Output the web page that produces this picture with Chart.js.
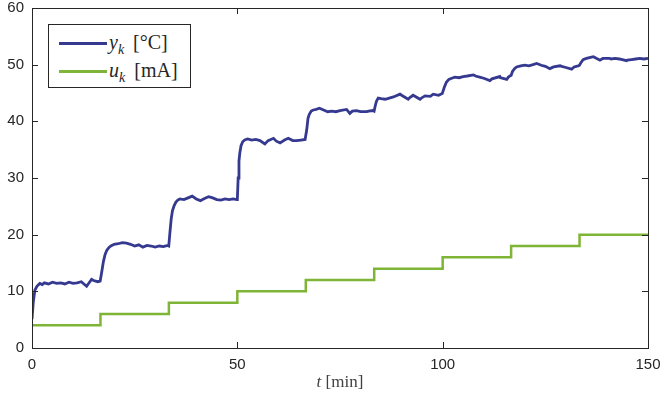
<!DOCTYPE html>
<html>
<head>
<meta charset="utf-8">
<script src="https://cdn.jsdelivr.net/npm/chart.js@4.4.1/dist/chart.umd.min.js"></script>
<style>
  body { margin: 0; background: #fff; }
  #wrap { position: relative; width: 662px; height: 401px; }
  #legend {
    position: absolute; left: 48px; top: 24px; width: 141px; height: 62px;
    border: 1px solid #262626; background: #fff;
    font-family: 'Liberation Serif', 'DejaVu Serif', serif; color: #262626;
  }
  #legend .ln { position: absolute; left: 10px; width: 48px; height: 2.5px; }
  #legend .tx { position: absolute; left: 60px; font-size: 20px; line-height: 20px; white-space: nowrap; }
  #legend sub { font-size: 14px; font-style: italic; vertical-align: -5px; line-height: 0; margin-right: 4px; }
  #xtitle {
    position: absolute; left: 32px; width: 616px; top: 373px; text-align: center;
    font-family: 'Liberation Serif', 'DejaVu Serif', serif; font-size: 17px; line-height: 18px; color: #404040;
  }
</style>
</head>
<body>
<div id="wrap">
  <canvas id="chart" width="662" height="401"></canvas>
  <div id="legend">
    <div class="ln" style="top:17px;background:#35398f"></div>
    <div class="tx" style="top:7px"><i>y</i><sub>k</sub> [°C]</div>
    <div class="ln" style="top:45px;background:#7fb536"></div>
    <div class="tx" style="top:35px"><i>u</i><sub>k</sub> [mA]</div>
  </div>
  <div id="xtitle"><i>t</i> [min]</div>
</div>
<script>
// ── Data ─────────────────────────────────────────────────────
const tempTimes = [
  0, 0.3, 0.7, 1.2, 1.9, 2.5, 3, 4, 5, 6, 7, 8, 9, 10, 11, 12, 13.3, 14, 14.5, 15, 16, 16.6,
  16.67, 17.0, 17.4, 17.8, 18.2, 18.7, 19.2, 20, 21, 22, 23, 24, 25, 26, 27, 28, 29, 30, 31, 32, 33, 33.3,
  33.33, 33.6, 33.9, 34.2, 34.6, 35.0, 35.5, 36, 37, 38, 39, 40, 41, 42, 43, 44, 45, 46, 47, 48, 49, 49.9,
  50, 50.2, 50.4, 50.6, 50.9, 51.3, 51.8, 52.5, 53.5, 54.5, 55.5, 56.7, 57.5, 58.8, 59.5, 60.4, 61.5, 62.4, 63.5, 64.4, 65.5, 66.5,
  66.67, 66.9, 67.2, 67.5, 68, 68.5, 69.2, 70, 71, 72, 73, 74, 75, 76.6, 77.4, 78, 79, 80, 81.5, 82, 83, 83.3,
  83.33, 83.6, 83.9, 84.3, 85, 86, 87, 88, 89.6, 90, 91.6, 92, 92.8, 94.5, 95, 95.7, 97, 97.7, 99, 99.9,
  100, 100.4, 100.9, 101.5, 102.2, 103, 104, 105, 106, 107.5, 108, 109, 110, 111.5, 112, 113.9, 114, 115.6, 116, 116.6,
  116.67, 117, 117.5, 118, 119, 120, 121, 122, 122.9, 124, 125, 126.1, 127, 128.6, 129, 130, 131.4, 132, 133,
  133.33, 133.7, 134.2, 135, 136, 136.7, 138.3, 139, 140.7, 141, 142, 143, 144.8, 145, 146, 147, 148, 149, 150
];
const tempValues = [
  5.1, 8.0, 10.2, 10.9, 11.4, 11.2, 11.5, 11.3, 11.6, 11.4, 11.5, 11.3, 11.6, 11.4, 11.5, 11.7, 10.9, 11.6, 12.1, 11.9, 11.7, 11.8,
  11.8, 13.5, 15.3, 16.5, 17.2, 17.7, 18.0, 18.3, 18.4, 18.6, 18.5, 18.3, 18.0, 18.2, 17.8, 18.1, 18.0, 17.8, 18.0, 17.9, 18.1, 18.0,
  18.0, 20.5, 22.8, 24.2, 25.1, 25.7, 26.1, 26.3, 26.2, 26.5, 26.8, 26.3, 26.0, 26.4, 26.7, 26.5, 26.2, 26.1, 26.3, 26.2, 26.3, 26.2,
  26.2, 30.0, 33.0, 34.4, 35.7, 36.4, 36.7, 36.9, 36.7, 36.8, 36.6, 36.0, 36.6, 37.0, 36.5, 36.2, 36.7, 37.0, 36.6, 36.6, 36.7, 36.8,
  36.8, 38.5, 40.5, 41.2, 41.8, 42.0, 42.1, 42.3, 42.0, 41.7, 41.8, 41.7, 41.9, 42.1, 41.4, 41.8, 41.9, 41.7, 41.7, 41.8, 41.9, 41.8,
  41.8, 42.8, 43.6, 44.1, 44.0, 43.9, 44.1, 44.3, 44.8, 44.6, 43.9, 44.2, 44.6, 43.9, 44.2, 44.5, 44.4, 44.8, 44.6, 44.9,
  44.9, 46.0, 46.9, 47.4, 47.6, 47.8, 47.7, 47.9, 48.0, 48.2, 48.0, 47.8, 47.6, 47.2, 47.5, 47.9, 47.7, 47.4, 47.8, 48.1,
  48.1, 48.8, 49.3, 49.6, 49.8, 49.9, 49.8, 50.0, 50.2, 49.9, 49.7, 49.3, 49.6, 49.8, 49.7, 49.5, 49.2, 49.6, 49.8,
  49.9, 50.4, 50.9, 51.1, 51.3, 51.4, 50.8, 51.1, 51.1, 51.0, 51.1, 51.0, 50.7, 50.8, 50.9, 51.0, 51.1, 51.0, 51.1
];
const currentTimes = [0, 16.67, 33.33, 50, 66.67, 83.33, 100, 116.67, 133.33, 150];
const currentValues = [4, 6, 8, 10, 12, 14, 16, 18, 20, 20];
const xTicks = [0, 50, 100, 150];
const yTicks = [0, 10, 20, 30, 40, 50, 60];

const axisColor = '#262626';

// MATLAB-like box with inward ticks on all four sides
const boxPlugin = {
  id: 'box',
  afterDraw(chart) {
    const { ctx, chartArea: a, scales } = chart;
    const len = 6;
    ctx.save();
    ctx.strokeStyle = axisColor;
    ctx.lineWidth = 1;
    ctx.beginPath();
    xTicks.forEach(v => {
      const x = Math.round(scales.x.getPixelForValue(v)) + 0.5;
      ctx.moveTo(x, a.bottom); ctx.lineTo(x, a.bottom - len);
      ctx.moveTo(x, a.top); ctx.lineTo(x, a.top + len);
    });
    yTicks.forEach(v => {
      const y = Math.round(scales.y.getPixelForValue(v)) + 0.5;
      ctx.moveTo(a.left, y); ctx.lineTo(a.left + len, y);
      ctx.moveTo(a.right, y); ctx.lineTo(a.right - len, y);
    });
    ctx.stroke();
    ctx.strokeRect(Math.round(a.left) + 0.5, Math.round(a.top) + 0.5,
      Math.round(a.right - a.left), Math.round(a.bottom - a.top));
    ctx.restore();
  }
};

const tickFont = { family: "'Liberation Sans', Arial, sans-serif", size: 15 };

new Chart(document.getElementById('chart'), {
  type: 'line',
  data: {
    datasets: [
      {
        label: 'y_k [°C]',
        data: tempTimes.map((t, i) => ({ x: t, y: tempValues[i] })),
        borderColor: '#35398f',
        borderWidth: 2.8,
        pointRadius: 0,
        tension: 0,
        fill: false
      },
      {
        label: 'u_k [mA]',
        data: currentTimes.map((t, i) => ({ x: t, y: currentValues[i] })),
        borderColor: '#7fb536',
        borderWidth: 2.5,
        pointRadius: 0,
        stepped: 'before',
        fill: false
      }
    ]
  },
  options: {
    responsive: false,
    animation: false,
    layout: { padding: { left: 0, right: 14, top: 8, bottom: 0 } },
    plugins: { legend: { display: false }, tooltip: { enabled: false } },
    scales: {
      x: {
        type: 'linear', min: 0, max: 150,
        afterBuildTicks: s => { s.ticks = xTicks.map(v => ({ value: v })); },
        afterFit: s => { s.height = 53; s.paddingLeft = 0; s.paddingRight = 0; },
        grid: { display: false, drawTicks: false },
        border: { display: false },
        ticks: { color: axisColor, font: tickFont, padding: 8, maxRotation: 0 }
      },
      y: {
        min: 0, max: 60,
        afterBuildTicks: s => { s.ticks = yTicks.map(v => ({ value: v })); },
        afterFit: s => { s.width = 32; s.paddingTop = 0; s.paddingBottom = 0; },
        grid: { display: false, drawTicks: false },
        border: { display: false },
        ticks: { color: axisColor, font: tickFont, padding: 8 }
      }
    }
  },
  plugins: [boxPlugin]
});
</script>
</body>
</html>
